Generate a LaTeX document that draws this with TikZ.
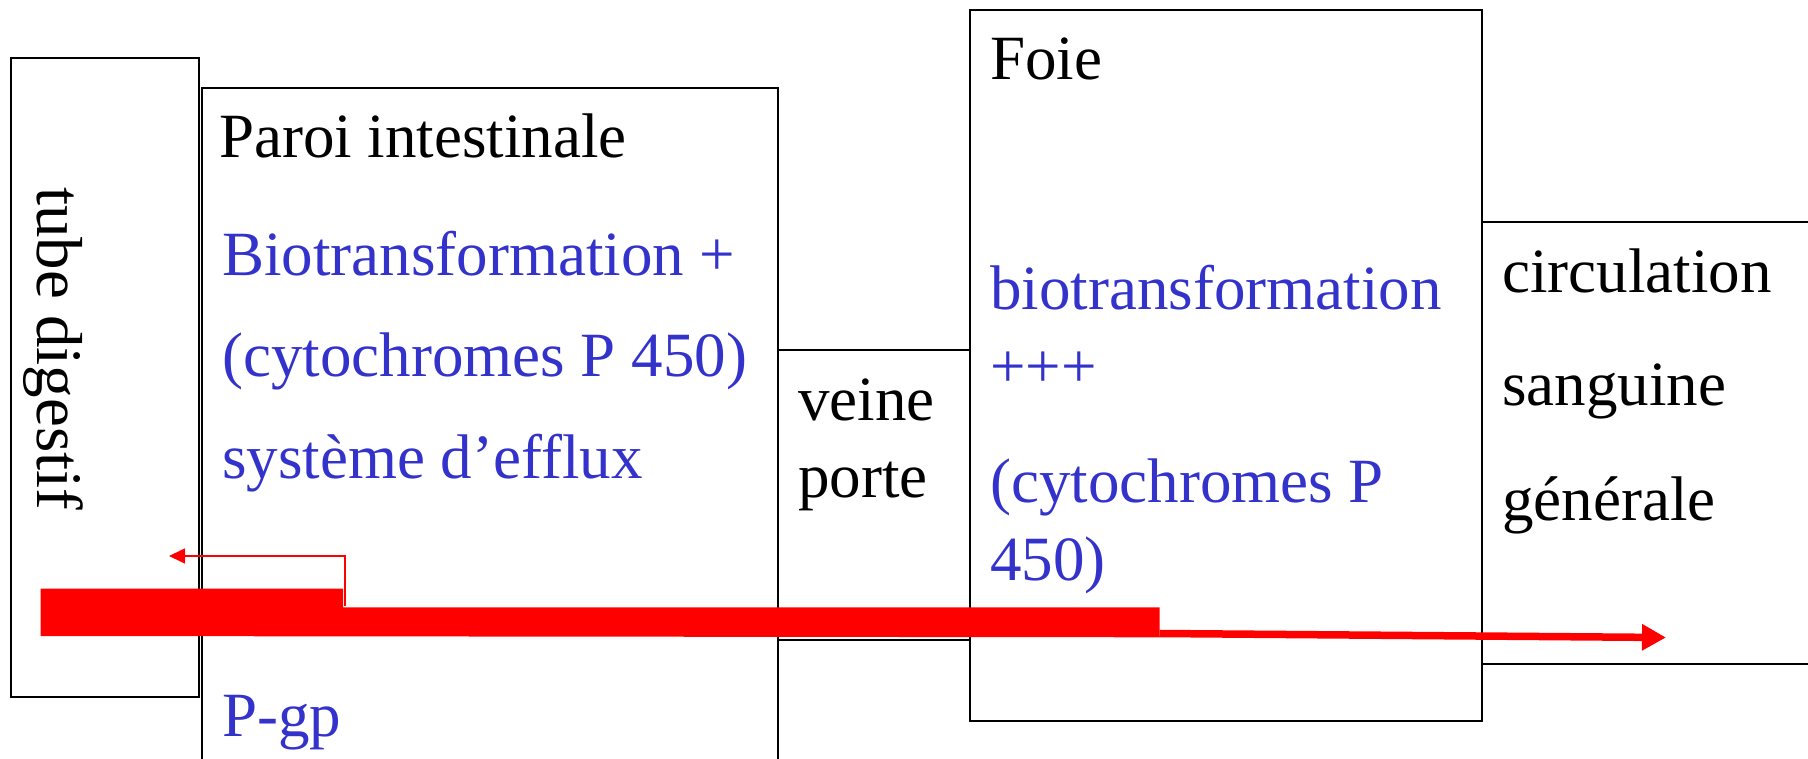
\documentclass[tikz,border=0pt]{standalone}
\usepackage{fontspec}
\setmainfont{Liberation Serif}
\usetikzlibrary{arrows.meta}
\definecolor{txtblue}{RGB}{51,51,204}
\begin{document}
\begin{tikzpicture}[x=1pt,y=-1pt,
  box/.style={draw=black, line width=1.8pt, rectangle, inner sep=0pt, anchor=north west},
  lbl/.style={anchor=base west, inner sep=0pt, font=\fontsize{63}{75}\selectfont},
  bluelbl/.style={lbl, text=txtblue},
  flowline/.style={draw=red, line join=miter},
]
\useasboundingbox (0,0) rectangle (1808,759);
\clip (0,0) rectangle (1808,759);

% compartments
\node[box, minimum width=188pt, minimum height=639pt] (tube) at (10,57) {};
\node[box, minimum width=576pt, minimum height=713pt] (paroi) at (201,87) {};
\node[box, minimum width=192pt, minimum height=290pt] (veine) at (777,349) {};
\node[box, minimum width=512pt, minimum height=711pt] (foie) at (969,9) {};
\node[box, minimum width=369pt, minimum height=442pt] (circ) at (1481,221) {};

% labels
\node[lbl, rotate=-90, font=\fontsize{65}{75}\selectfont] (tubetxt) at (37,187) {tube digestif};

\node[lbl] (paroitxt) at (219,158) {Paroi intestinale};
\node[bluelbl] (biotr1) at (222,276) {Biotransformation +};
\node[bluelbl] (cyto1) at (222,377) {(cytochromes P 450)};
\node[bluelbl] (efflux) at (222,478) {système d’efflux};
\node[bluelbl] (pgp) at (222,736) {P-gp};

\node[lbl] (veinetxt) at (798,420) {veine};
\node[lbl] (portetxt) at (798,497) {porte};

\node[lbl] (foietxt) at (990,80) {Foie};
\node[bluelbl] (biotr2) at (990,310) {biotransformation};
\node[bluelbl] (plus) at (990,388) {+++};
\node[bluelbl] (cyto2) at (990,502) {(cytochromes P};
\node[bluelbl] (cyto2b) at (990,580) {450)};

\node[lbl] (circ1) at (1502,293) {circulation};
\node[lbl] (circ2) at (1502,406) {sanguine};
\node[lbl] (circ3) at (1502,520) {générale};

% drug flow
\coordinate (effluxfoot) at (345,606);
\coordinate (effluxbend) at (345,556);
\coordinate (effluxtip) at (169,556);
\coordinate (flowend) at (1159.5,633.5);
\coordinate (flowtip) at (1666,637.5);

\fill[red] (40.7,588.5) -- (343,588.5) -- (343,607.3) -- (1159.5,607.3)
  -- (1159.5,637.3) -- (40.7,636) -- cycle;
\draw[flowline, line width=7.5pt, -{Triangle[length=24pt,width=25pt]}]
  (flowend) -- (flowtip);
\draw[flowline, line width=1.6pt, -{Triangle[length=16pt,width=15pt]}]
  (effluxfoot) -- (effluxbend) -- (effluxtip);
\end{tikzpicture}
\end{document}
